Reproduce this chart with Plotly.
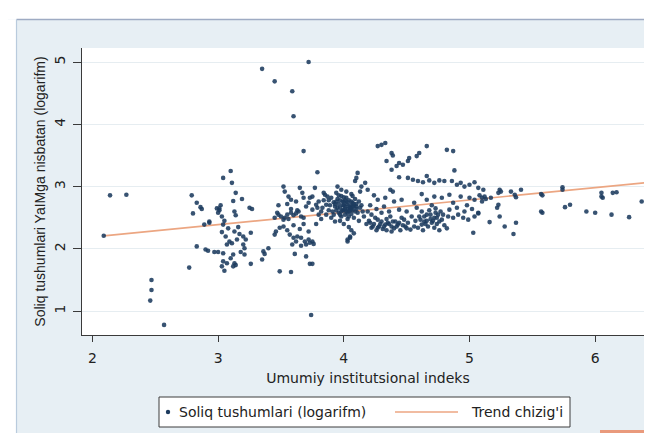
import plotly.graph_objects as go

# ---------------- data ----------------
tax_x = [
    2.09, 2.14, 2.27, 2.47, 2.47, 2.46, 2.57,
    2.79, 2.83, 2.86, 2.87, 2.80, 2.99, 2.93, 2.83, 2.90, 2.77, 2.97,
    3.10, 3.04, 3.11, 3.14, 3.19, 3.12, 3.25, 3.27, 3.01, 3.01, 3.03, 3.13, 3.14, 2.93, 2.89, 3.04,
    3.03, 3.13, 3.17, 3.20, 3.26, 3.09, 3.07, 3.11, 3.20, 3.21, 2.92, 3.00, 3.04, 3.12, 3.21, 3.04,
    3.07, 3.03, 3.05, 3.13, 3.14, 3.12, 3.26, 3.36, 3.37, 3.35, 3.40, 3.45,
    3.00, 3.02, 3.05, 3.08, 3.15, 3.16, 3.10, 3.18, 3.22, 3.06,
    3.35, 3.45, 3.59, 3.60, 3.72, 3.68, 3.79, 3.74,
    3.45, 3.48, 3.50, 3.53, 3.55, 3.58, 3.60, 3.62, 3.64, 3.66, 3.68, 3.63, 3.58, 3.52, 3.47, 3.56,
    3.52, 3.53, 3.56, 3.58, 3.65, 3.67, 3.68, 3.73, 3.75, 3.72, 3.78, 3.75, 3.79, 3.77, 3.48, 3.55, 3.62, 3.70,
    3.57, 3.60, 3.63, 3.66, 3.69, 3.72, 3.75, 3.59, 3.62, 3.66, 3.70, 3.73, 3.76, 3.49, 3.52, 3.46,
    3.61, 3.70, 3.73, 3.75, 3.49, 3.58, 3.55, 3.65, 3.72, 3.68, 3.78, 3.60,
    3.95, 3.98, 4.03, 3.85, 3.87, 3.86, 3.83, 3.90, 3.93,
    3.88, 3.90, 3.92, 3.93, 3.94, 3.95, 3.96, 3.96, 3.97, 3.98, 3.98, 3.99, 4.00, 4.00, 4.01, 4.01,
    4.02, 4.02, 4.03, 4.03, 4.04, 4.04, 4.05, 4.05, 4.06, 4.06, 4.07, 4.07, 4.08, 4.08, 4.09, 4.10,
    4.10, 4.11, 4.12, 4.12, 4.13, 4.14, 4.15, 3.91, 3.94, 3.97, 4.00, 4.02, 4.04, 4.06, 4.08, 4.05,
    3.89, 3.92, 3.99, 4.01, 3.97, 4.03, 4.07, 4.09,
    3.80, 3.82, 3.84, 3.82, 3.80, 3.86, 3.88, 3.84,
    3.93, 3.95, 3.96, 3.98, 3.99, 4.00, 4.01, 4.02, 4.03, 4.04, 4.05, 4.06, 4.07, 4.08, 4.00, 3.97,
    4.04, 4.10, 3.94, 4.06,
    4.11, 4.10, 4.09, 4.17, 4.14, 4.19, 4.13, 4.37, 4.39,
    4.30, 4.33, 4.27, 4.38, 4.39, 4.66, 4.60, 4.58, 4.52, 4.51, 4.44, 4.47, 4.42, 4.38, 4.34, 4.82,
    4.87, 4.88,
    4.44, 4.51, 4.55, 4.59, 4.63, 4.66, 4.68, 4.72, 4.76, 4.80, 4.86, 4.90, 4.93, 4.96, 5.00, 5.04,
    5.07, 5.11,
    4.27, 4.33, 4.40, 4.46, 4.56, 4.66, 4.72, 4.78, 4.84, 4.87, 4.93, 5.00, 5.04, 5.10, 5.17, 4.21,
    4.24, 4.62, 4.70, 4.98,
    4.19, 4.22, 4.25, 4.27, 4.30, 4.33, 4.35, 4.38, 4.41, 4.43, 4.46, 4.48, 4.51, 4.54, 4.56, 4.59,
    4.62, 4.64, 4.67, 4.70, 4.72, 4.75, 4.78, 4.72, 4.83, 4.87, 4.91, 4.95, 4.99, 5.04, 5.07, 5.03,
    4.38, 4.27, 4.22, 4.05, 4.03,
    4.20, 4.24, 4.28, 4.31, 4.34, 4.37, 4.40, 4.45, 4.49, 4.53, 4.57, 4.60, 4.63, 4.66, 4.69, 4.74,
    4.77, 4.80, 4.68, 4.73, 4.62, 4.58, 4.50, 4.44, 4.36, 4.30, 4.26, 4.16, 4.18, 4.32, 4.84, 4.90,
    4.96, 5.02, 4.76, 4.82,
    4.21, 4.23, 4.26, 4.29, 4.32, 4.34, 4.36, 4.39, 4.42, 4.44, 4.47, 4.50,
    4.61, 4.64, 4.66, 4.69, 4.71, 4.74, 4.76, 4.79, 4.73, 4.65,
    5.10, 5.12, 5.08, 5.13, 5.24, 5.25, 5.23, 5.33, 5.36, 5.37, 5.41, 5.57, 5.58, 5.74, 5.74, 6.05,
    6.05, 6.06, 6.14, 6.17, 6.37, 5.23, 5.22, 5.57, 5.58, 5.76, 5.80, 5.93, 6.00, 6.13, 6.27, 5.24,
    5.16, 5.28, 5.37, 5.35, 5.07,
]
tax_y = [
    2.21, 2.86, 2.87, 1.50, 1.34, 1.17, 0.78,
    2.86, 2.74, 2.67, 2.64, 2.57, 2.65, 2.44, 2.04, 1.99, 1.70, 1.95,
    3.25, 3.14, 3.06, 2.90, 2.80, 2.77, 2.66, 2.64, 2.65, 2.62, 2.52, 2.60, 2.54, 2.42, 2.39, 2.39,
    2.27, 2.28, 2.24, 2.20, 2.26, 2.12, 2.07, 2.09, 2.07, 2.01, 1.97, 1.95, 1.93, 1.91, 1.91, 1.80,
    1.77, 1.72, 1.65, 1.77, 1.74, 1.72, 1.76, 1.96, 1.92, 1.83, 2.01, 2.23,
    2.58, 2.70, 2.45, 2.33, 2.15, 2.35, 1.85, 1.95, 2.15, 2.20,
    4.89, 4.69, 4.53, 4.13, 5.00, 3.57, 3.23, 0.94,
    2.50, 2.55, 2.52, 2.50, 2.55, 2.58, 2.54, 2.57, 2.60, 2.52, 2.50, 2.62, 2.64, 2.47, 2.58, 2.48,
    3.00, 2.92, 2.84, 2.79, 2.98, 2.90, 2.82, 2.82, 2.84, 2.74, 2.71, 2.63, 2.66, 2.98, 2.70, 2.72, 2.76, 2.68,
    2.23, 2.18, 2.20, 2.18, 2.12, 2.15, 2.12, 2.07, 2.12, 2.05, 2.07, 2.10, 2.08, 2.34, 2.36, 2.28,
    1.92, 1.88, 1.76, 1.76, 1.64, 1.63, 2.30, 2.32, 2.28, 2.40, 2.40, 2.38,
    3.00, 2.95, 2.15, 2.87, 2.84, 2.71, 2.66, 2.50, 2.44,
    2.78, 2.82, 2.75, 2.68, 2.62, 2.80, 2.72, 2.58, 2.66, 2.85, 2.52, 2.70, 2.76, 2.62, 2.68, 2.55,
    2.82, 2.72, 2.64, 2.48, 2.78, 2.60, 2.70, 2.66, 2.88, 2.56, 2.74, 2.62, 2.68, 2.50, 2.80, 2.64,
    2.72, 2.58, 2.76, 2.45, 2.66, 2.70, 2.60, 2.60, 2.90, 2.45, 2.40, 2.92, 2.35, 2.30, 2.25, 2.20,
    2.70, 2.55, 2.62, 2.78, 2.78, 2.58, 2.85, 2.60,
    2.76, 2.60, 2.78, 2.48, 2.55, 2.55, 2.62, 2.90,
    2.72, 2.66, 2.86, 2.60, 2.76, 2.70, 2.64, 2.60, 2.75, 2.68, 2.62, 2.76, 2.68, 2.72, 2.83, 2.55,
    2.52, 2.68, 2.76, 2.64,
    3.22, 3.14, 3.09, 3.06, 3.00, 2.95, 2.92, 2.95, 2.92,
    3.67, 3.70, 3.65, 3.54, 3.50, 3.65, 3.54, 3.49, 3.46, 3.41, 3.38, 3.35, 3.33, 3.27, 3.41, 3.59,
    3.57, 3.26,
    3.15, 3.14, 3.11, 3.09, 3.07, 3.17, 3.10, 3.06, 3.10, 3.09, 3.09, 3.03, 3.06, 3.00, 3.03, 3.07,
    2.98, 2.95,
    2.79, 2.82, 2.76, 2.79, 2.74, 2.79, 2.84, 2.82, 2.87, 2.74, 2.84, 2.82, 2.79, 2.76, 2.82, 2.70,
    2.86, 2.88, 2.70, 2.70,
    2.60, 2.55, 2.50, 2.47, 2.44, 2.39, 2.42, 2.36, 2.44, 2.39, 2.50, 2.47, 2.42, 2.52, 2.36, 2.34,
    2.39, 2.44, 2.36, 2.42, 2.50, 2.55, 2.47, 2.34, 2.52, 2.50, 2.55, 2.50, 2.47, 2.52, 2.57, 2.26,
    2.28, 2.34, 2.34, 2.18, 2.12,
    2.45, 2.40, 2.36, 2.32, 2.48, 2.52, 2.33, 2.30, 2.36, 2.31, 2.45, 2.52, 2.30, 2.55, 2.48, 2.40,
    2.60, 2.38, 2.62, 2.65, 2.60, 2.66, 2.60, 2.63, 2.60, 2.58, 2.64, 2.52, 2.40, 2.68, 2.63, 2.66,
    2.60, 2.64, 2.30, 2.33,
    2.42, 2.36, 2.30, 2.40, 2.36, 2.30, 2.40, 2.44, 2.36, 2.42, 2.38, 2.33,
    2.47, 2.52, 2.45, 2.55, 2.45, 2.50, 2.44, 2.55, 2.58, 2.40,
    2.82, 2.84, 2.86, 2.80, 2.95, 2.92, 2.90, 2.92, 2.87, 2.83, 2.95, 2.88, 2.86, 2.99, 2.95, 2.90,
    2.84, 2.82, 2.90, 2.91, 2.76, 2.71, 2.66, 2.60, 2.58, 2.67, 2.71, 2.60, 2.58, 2.55, 2.51, 2.52,
    2.43, 2.36, 2.42, 2.24, 2.58,
]
trend_x = [2.09, 6.39]
trend_y = [2.21, 3.06]
x_ticks = [2, 3, 4, 5, 6]
y_ticks = [1, 2, 3, 4, 5]
x_title = "Umumiy institutsional indeks"
y_title = "Soliq tushumlari YaIMga nisbatan (logarifm)"
legend_labels = ["Soliq tushumlari (logarifm)", "Trend chizig'i"]

# ---------------- styling ----------------
W, H = 652, 433
L, R, T, B = 74, 6, 40, 106
PW, PH = W - L - R, H - T - B
NAVY = "#1d3b5e"
TREND = "#eca682"
OUTER = "#e7eff4"
FONT_H = "DejaVu Sans"
FONT_V = "Liberation Sans"


def fx(p):
    return (p - L) / PW


def fy(p):
    return (H - B - p) / PH


fig = go.Figure()
fig.add_trace(go.Scatter(
    x=trend_x, y=trend_y, mode="lines", name=legend_labels[1],
    line=dict(color=TREND, width=1.7), showlegend=False, hoverinfo="skip"))
fig.add_trace(go.Scatter(
    x=tax_x, y=tax_y, mode="markers", name=legend_labels[0],
    marker=dict(size=4.6, color=NAVY, opacity=0.88, line=dict(width=0)),
    showlegend=False, hoverinfo="skip"))

shapes = [
    # window frame: white strip on top and left, border lines
    dict(type="rect", xref="paper", yref="paper", x0=fx(0), x1=fx(W), y0=fy(0), y1=fy(11.5),
         fillcolor="white", line=dict(width=0), layer="above"),
    dict(type="line", xref="paper", yref="paper", x0=fx(8.5), x1=fx(W), y0=fy(11.5), y1=fy(11.5),
         line=dict(color="#9eabc3", width=1.5)),
    dict(type="rect", xref="paper", yref="paper", x0=fx(0), x1=fx(8), y0=fy(11.5), y1=fy(H),
         fillcolor="white", line=dict(width=0)),
    dict(type="line", xref="paper", yref="paper", x0=fx(8.5), x1=fx(8.5), y0=fy(11.5), y1=fy(H),
         line=dict(color="#b9cbdd", width=1.2)),
    # legend box
    dict(type="rect", xref="paper", yref="paper", x0=fx(151), x1=fx(562), y0=fy(389), y1=fy(419),
         fillcolor="white", line=dict(color="#3c3c3c", width=1)),
    dict(type="circle", xref="paper", yref="paper", x0=fx(157.8), x1=fx(162.2), y0=fy(401.8), y1=fy(406.2),
         fillcolor=NAVY, line=dict(width=0)),
    dict(type="line", xref="paper", yref="paper", x0=fx(387), x1=fx(450), y0=fy(404), y1=fy(404),
         line=dict(color=TREND, width=1.7)),
    # small orange badge bottom right
    dict(type="rect", xref="paper", yref="paper", x0=fx(592), x1=fx(W), y0=fy(422), y1=fy(H),
         fillcolor="#e99a7c", line=dict(width=0)),
]

annotations = [
    dict(xref="paper", yref="paper", x=fx(169), y=fy(404), xanchor="left", yanchor="middle",
         text=legend_labels[0], showarrow=False, font=dict(family=FONT_H, size=14, color="#222222")),
    dict(xref="paper", yref="paper", x=fx(461), y=fy(404), xanchor="left", yanchor="middle",
         text=legend_labels[1], showarrow=False, font=dict(family=FONT_H, size=14, color="#222222")),
]

fig.update_layout(
    width=W, height=H,
    margin=dict(l=L, r=R, t=T, b=B, autoexpand=False),
    paper_bgcolor=OUTER, plot_bgcolor="white",
    showlegend=False,
    shapes=shapes, annotations=annotations,
    xaxis=dict(
        range=[1.917, 6.468], tickvals=x_ticks, ticktext=[str(v) for v in x_ticks],
        showline=True, linecolor="#3a3a3a", linewidth=1, mirror=False,
        ticks="outside", ticklen=6, tickcolor="#3a3a3a", tickwidth=1,
        ticklabelstandoff=4,
        showgrid=False, zeroline=False,
        tickfont=dict(family=FONT_H, size=14, color="#222222"),
        title=dict(text=x_title, standoff=8, font=dict(family=FONT_H, size=14, color="#222222")),
    ),
    yaxis=dict(
        range=[0.618, 5.225], tickvals=y_ticks, ticktext=[str(v) for v in y_ticks],
        tickangle=-90,
        showline=True, linecolor="#3a3a3a", linewidth=1, mirror=False,
        ticks="outside", ticklen=8, tickcolor="#3a3a3a", tickwidth=1,
        ticklabelstandoff=2,
        showgrid=True, gridcolor="#e6edf1", gridwidth=1, zeroline=False,
        tickfont=dict(family=FONT_H, size=14, color="#222222"),
        title=dict(text=y_title, standoff=3, font=dict(family=FONT_V, size=14, color="#222222")),
    ),
)

fig.write_html("out.html")
